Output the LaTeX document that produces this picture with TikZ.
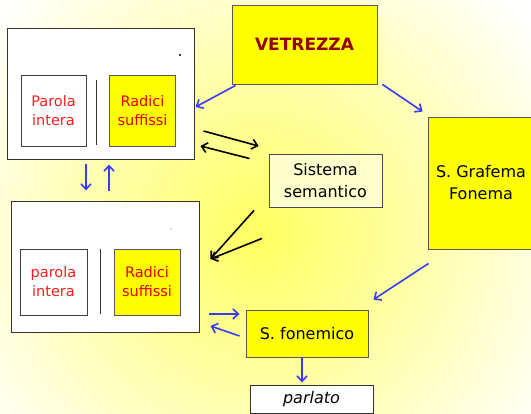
\documentclass[tikz,border=0pt]{standalone}
\usepackage{fontspec}
\setmainfont{DejaVu Sans}
\usetikzlibrary{arrows.meta,calc}
\definecolor{arrblue}{RGB}{55,60,255}
\definecolor{txtred}{RGB}{250,30,30}
\definecolor{darkred}{RGB}{150,0,0}
\definecolor{boxyellow}{RGB}{255,255,0}
\definecolor{palebox}{RGB}{255,255,205}
\tikzset{
  bigbox/.style={draw=black!80, line width=1pt, fill=white, minimum width=#1, inner sep=0pt},
  whitebox/.style={draw=black!75, line width=0.9pt, fill=white, inner sep=0pt, align=center, text=txtred, font=\fontsize{14.5}{19}\selectfont},
  ybox/.style={draw=black!65, line width=0.9pt, fill=boxyellow, inner sep=0pt, align=center},
  redtext/.style={text=red!90!black, font=\fontsize{14.5}{19}\selectfont},
  blacktext/.style={text=black, font=\fontsize{16}{22}\selectfont},
  bluearr/.style={draw=arrblue, line width=1.6pt, -{Straight Barb[length=5.5pt,width=10pt]}},
  blackarr/.style={draw=black, line width=1.6pt, -{Straight Barb[length=5.5pt,width=10pt]}},
}
\begin{document}
\begin{tikzpicture}[x=1pt,y=-1pt]
\useasboundingbox (0,0) rectangle (531,414);
\begin{scope}
\clip (0,0) rectangle (531,414);
\fill[white] (0,0) rectangle (531,414);
\shade[inner color=boxyellow!62, outer color=white] (260,235) circle (345);

% top-left group
\node[bigbox=187pt, minimum height=131pt] (tl) at (100.5,94.5) {};
\node[whitebox, minimum width=65pt, minimum height=71pt] (p1) at (53.5,110.5) {Parola\\intera};
\node[ybox, redtext, minimum width=66pt, minimum height=71pt] (r1) at (142.5,110.5) {Radici\\suffissi};
\coordinate (v1a) at (96,80);
\coordinate (v1b) at (96,145);
\draw[black!80, line width=0.9pt] (v1a) -- (v1b);
\fill[black] (180,55) circle (1.1);

% bottom-left group
\node[bigbox=188pt, minimum height=131pt] (bl) at (105,267.5) {};
\node[whitebox, minimum width=67pt, minimum height=66pt] (p2) at (53.5,282) {parola\\intera};
\node[ybox, redtext, minimum width=66pt, minimum height=66pt] (r2) at (147,282) {Radici\\suffissi};
\coordinate (v2a) at (100,249);
\coordinate (v2b) at (100,314);
\draw[black!80, line width=0.9pt] (v2a) -- (v2b);
\fill[arrblue!40] (171,229) circle (0.8);

% other nodes
\node[ybox, minimum width=145pt, minimum height=79pt, text=darkred, font=\bfseries\fontsize{17}{20}\selectfont] (vet) at (304.5,44.5) {VETREZZA};
\node[ybox, blacktext, minimum width=106pt, minimum height=132pt] (graf) at (481,183) {S. Grafema\\Fonema};
\node[draw=black!70, line width=0.9pt, fill=palebox, inner sep=0pt, align=center, blacktext, minimum width=113pt, minimum height=53pt] (sist) at (325.5,180.5) {Sistema\\semantico};
\node[ybox, blacktext, minimum width=122pt, minimum height=47pt] (fon) at (307,333.5) {S. fonemico};
\node[draw=black!80, line width=0.9pt, fill=white, inner sep=0pt, blacktext, font=\itshape\fontsize{16}{20}\selectfont, minimum width=123pt, minimum height=28pt] (parl) at (311.5,399) {parlato};
\end{scope}

% connectors
\draw[bluearr] ($(vet.south west)+(4,1)$) -- ($(tl.east)+(1,12.5)$);
\draw[bluearr] ($(vet.south east)+(5,0)$) -- ($(graf.north west)+(-5,-5)$);
\draw[blackarr] ($(tl.east)+(9,36.5)$) -- ($(sist.west)+(-10,-34.5)$);
\draw[blackarr] ($(sist.north west)+(-19,5)$) -- ($(tl.east)+(6,51.5)$);
\draw[bluearr] ($(tl.south)+(-14.5,4)$) -- ($(bl.north)+(-19,-11)$);
\draw[bluearr] ($(bl.north)+(4,-10)$) -- ($(tl.south)+(8.5,4)$);
\draw[blackarr] ($(sist.south)+(-71.5,3)$) -- ($(bl.east)+(11,-8.5)$);
\draw[blackarr] ($(sist.south)+(-63.5,31)$) -- ($(bl.east)+(11,-8.5)$);
\draw[bluearr] ($(bl.east)+(9,46.5)$) -- ($(fon.west)+(-6,-19.5)$);
\draw[bluearr] ($(fon.west)+(-6,2.5)$) -- ($(bl.east)+(11,58.5)$);
\draw[bluearr] ($(graf.south west)+(1,14)$) -- ($(fon.north east)+(5,-10)$);
\draw[bluearr] ($(fon.south)+(-5,0)$) -- ($(parl.north)+(-9.5,-2)$);
\end{tikzpicture}
\end{document}
